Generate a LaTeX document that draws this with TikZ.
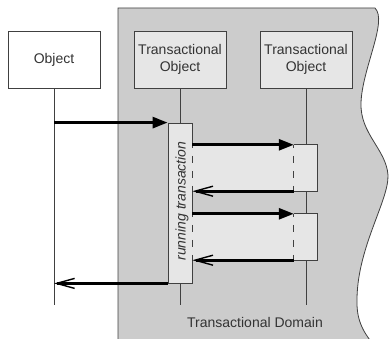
\documentclass[tikz,border=0pt]{standalone}
\usepackage{fontspec}
\setmainfont{Liberation Sans}
\usetikzlibrary{arrows.meta,positioning}
\definecolor{domaingray}{HTML}{CCCCCC}
\definecolor{boxgray}{HTML}{E6E6E6}
\definecolor{linegray}{HTML}{404040}
\definecolor{textgray}{HTML}{333333}

\begin{document}
\begin{tikzpicture}[x=1bp,y=1bp,
  font=\fontsize{14bp}{17bp}\selectfont,
  objbox/.style={draw=linegray, fill=boxgray, line width=0.8bp, minimum width=92bp,
    minimum height=57bp, align=center, text=textgray, inner sep=0pt},
  actbar/.style={draw=linegray, fill=boxgray, line width=0.8bp, minimum width=24bp,
    minimum height=160bp, inner sep=0pt},
  actbox/.style={minimum width=23bp, minimum height=46bp, inner sep=0pt},
  lifeline/.style={draw=linegray, line width=0.8bp},
  edge/.style={draw=linegray, line width=0.8bp},
  split/.style={draw=linegray, line width=0.8bp, dash pattern=on 7bp off 8bp, dash phase=4bp},
  call/.style={line width=2.8bp, -{Triangle[length=15bp,width=11bp]}},
  reply/.style={line width=2.8bp, -{Straight Barb[length=18bp,width=10bp,line width=1.4bp]}}]
\clip (0,0) rectangle (391,339);

% transactional domain
\filldraw[fill=domaingray, draw=linegray, line width=0.8bp]
  (118,-10) -- (118,331) -- (375,331)
  .. controls (388,318) and (362,270) .. (361,236)
  .. controls (360,205) and (386,190) .. (388,164)
  .. controls (389,138) and (356,90) .. (357,36)
  .. controls (357,15) and (366,3) .. (378,-11) -- cycle;
\node[text=textgray] (domainlabel) at (255,17) {Transactional Domain};

% objects
\node[objbox, fill=white] (obj) at (54,279.5) {Object};
\node[objbox] (tobj1) at (180,279.5) {Transactional\\Object};
\node[objbox] (tobj2) at (306,279.5) {Transactional\\Object};

% lifelines
\coordinate (objend) at (54,34);
\coordinate (tobj1end) at (180,34);
\coordinate (tobj2end) at (306,34);
\draw[lifeline] (obj) -- (objend);
\draw[lifeline] (tobj1) -- (tobj1end);
\draw[lifeline] (tobj2) -- (tobj2end);

% running transaction
\node[actbar] (run) at (180,136) {};
\node[rotate=90, text=textgray, font=\fontsize{14bp}{17bp}\selectfont\itshape] (runlabel) at (182,138) {running transaction};

% nested calls
\node[actbox] (act1) at (305.5,171) {};
\node[actbox] (act2) at (305.5,102) {};
\foreach \a in {act1,act2} {
  \fill[boxgray] (run.east |- \a.north) rectangle (\a.south east);
  \draw[edge] (\a.north west) -- (\a.north east) -- (\a.south east) -- (\a.south west);
  \draw[split] (\a.north west) -- (\a.south west);
  \draw[split] (run.east |- \a.north) -- (run.east |- \a.south);
}

% messages
\draw[call] (obj |- run.north) -- (run.north west);
\draw[call] (run.east |- act1.north) -- (act1.north west);
\draw[reply] (act1.south west) -- (run.east |- act1.south);
\draw[call] (run.east |- act2.north) -- (act2.north west);
\draw[reply] (act2.south west) -- (run.east |- act2.south);
\draw[reply] (run.south west) -- (obj |- run.south);
\end{tikzpicture}
\end{document}
